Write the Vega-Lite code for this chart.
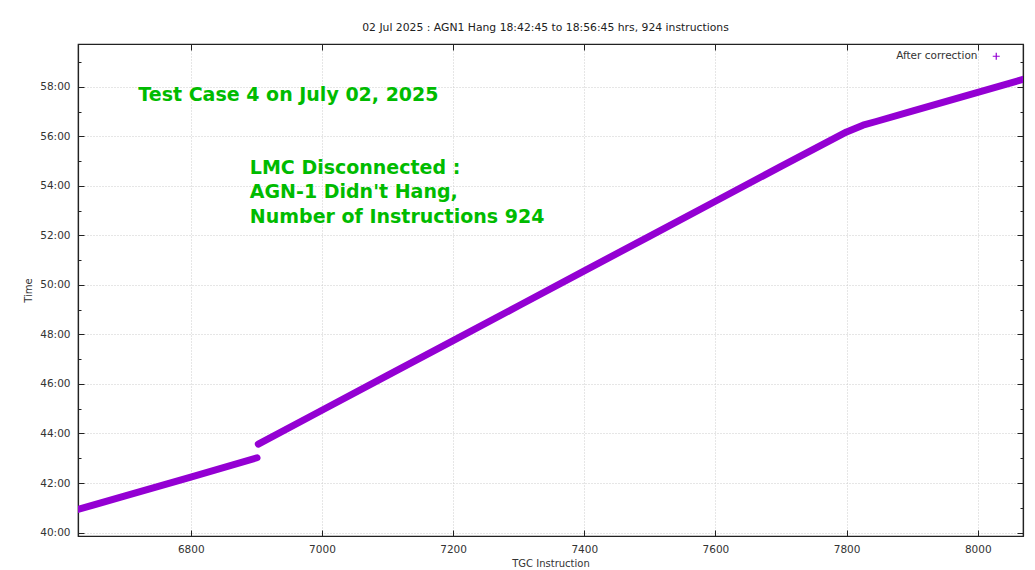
{
  "$schema": "https://vega.github.io/schema/vega-lite/v6.json",
  "width": 945,
  "height": 492,
  "autosize": "none",
  "padding": {"left": 78, "top": 44, "right": 12, "bottom": 34},
  "background": "white",
  "title": {
    "text": "02 Jul 2025 : AGN1 Hang 18:42:45 to 18:56:45 hrs, 924 instructions",
    "font": "DejaVu Sans",
    "fontSize": 10.8,
    "fontWeight": "normal",
    "color": "#222222",
    "anchor": "middle",
    "dx": -5,
    "offset": 11
  },
  "config": {
    "view": {"stroke": "#222222", "strokeWidth": 1.2},
    "axis": {
      "labelFont": "DejaVu Sans",
      "labelFontSize": 10.5,
      "labelColor": "#333333",
      "titleFont": "DejaVu Sans",
      "titleFontSize": 10,
      "titleFontWeight": "normal",
      "titleColor": "#333333",
      "domainColor": "#222222",
      "domainWidth": 1.2,
      "tickColor": "#222222",
      "tickWidth": 1,
      "gridColor": "#cccccc",
      "gridDash": [1, 2],
      "gridWidth": 1
    },
    "legend": {
      "labelFont": "DejaVu Sans",
      "labelFontSize": 10.5,
      "labelColor": "#333333"
    }
  },
  "datasets": {
    "trace": [
      {"run": 1, "instruction": 6628, "minute": 40.93},
      {"run": 1, "instruction": 6700, "minute": 41.48},
      {"run": 1, "instruction": 6800, "minute": 42.24},
      {"run": 1, "instruction": 6901, "minute": 43.02},
      {"run": 2, "instruction": 6903, "minute": 43.57},
      {"run": 2, "instruction": 7000, "minute": 44.94},
      {"run": 2, "instruction": 7100, "minute": 46.35},
      {"run": 2, "instruction": 7200, "minute": 47.75},
      {"run": 2, "instruction": 7300, "minute": 49.16},
      {"run": 2, "instruction": 7400, "minute": 50.57},
      {"run": 2, "instruction": 7500, "minute": 51.97},
      {"run": 2, "instruction": 7600, "minute": 53.38},
      {"run": 2, "instruction": 7700, "minute": 54.79},
      {"run": 2, "instruction": 7800, "minute": 56.18},
      {"run": 2, "instruction": 7825, "minute": 56.45},
      {"run": 2, "instruction": 7845, "minute": 56.6},
      {"run": 2, "instruction": 7900, "minute": 57.02},
      {"run": 2, "instruction": 8000, "minute": 57.78},
      {"run": 2, "instruction": 8069, "minute": 58.3}
    ],
    "notes": [
      {"instruction": 6720, "minute": 57.69, "label": "Test Case 4 on July 02, 2025"},
      {"instruction": 6890, "minute": 54.74, "label": "LMC Disconnected :"},
      {"instruction": 6890, "minute": 53.76, "label": "AGN-1 Didn't Hang,"},
      {"instruction": 6890, "minute": 52.76, "label": "Number of Instructions 924"}
    ]
  },
  "layer": [
    {
      "data": {"name": "trace"},
      "mark": {"type": "line", "strokeWidth": 7, "strokeCap": "round", "strokeJoin": "round", "clip": true},
      "encoding": {
        "x": {
          "field": "instruction",
          "type": "quantitative",
          "scale": {"domain": [6628, 8069], "nice": false, "zero": false},
          "axis": {
            "title": "TGC Instruction",
            "format": "d",
            "values": [6800, 7000, 7200, 7400, 7600, 7800, 8000],
            "tickSize": -6,
            "labelPadding": 14,
            "titlePadding": 4,
            "grid": true
          }
        },
        "y": {
          "field": "minute",
          "type": "quantitative",
          "scale": {"domain": [39.86, 59.73], "nice": false, "zero": false},
          "axis": {
            "title": "Time",
            "values": [40, 41, 42, 43, 44, 45, 46, 47, 48, 49, 50, 51, 52, 53, 54, 55, 56, 57, 58, 59],
            "labelExpr": "datum.value % 2 == 0 ? datum.value + ':00' : ''",
            "tickSize": {"condition": {"test": "datum.value % 2 == 0", "value": -6}, "value": -3},
            "gridOpacity": {"condition": {"test": "datum.value % 2 == 0", "value": 1}, "value": 0},
            "labelPadding": 14,
            "titlePadding": 6,
            "grid": true
          }
        },
        "detail": {"field": "run", "type": "nominal"},
        "color": {
          "datum": "After correction",
          "type": "nominal",
          "scale": {"range": ["#9400d3"]},
          "legend": {
            "title": null,
            "orient": "none",
            "legendX": 913,
            "legendY": 7,
            "padding": 0,
            "symbolType": "M-1,0H1M0,-1V1",
            "symbolSize": 49,
            "symbolStrokeWidth": 1.2,
            "symbolFillColor": "transparent",
            "labelAlign": "right",
            "labelOffset": -24
          }
        }
      }
    },
    {
      "data": {"name": "notes"},
      "mark": {
        "type": "text",
        "align": "left",
        "baseline": "middle",
        "font": "DejaVu Sans",
        "fontWeight": "bold",
        "fontSize": 19,
        "color": "#00bb00"
      },
      "encoding": {
        "x": {
          "field": "instruction",
          "type": "quantitative",
          "axis": {
            "orient": "top",
            "title": null,
            "labels": false,
            "grid": false,
            "values": [6800, 7000, 7200, 7400, 7600, 7800, 8000],
            "tickSize": -6
          }
        },
        "y": {
          "field": "minute",
          "type": "quantitative",
          "axis": {
            "orient": "right",
            "title": null,
            "labels": false,
            "grid": false,
            "values": [40, 41, 42, 43, 44, 45, 46, 47, 48, 49, 50, 51, 52, 53, 54, 55, 56, 57, 58, 59],
            "tickSize": {"condition": {"test": "datum.value % 2 == 0", "value": -6}, "value": -3}
          }
        },
        "text": {"field": "label", "type": "nominal"}
      }
    }
  ],
  "resolve": {"axis": {"x": "independent", "y": "independent"}}
}
